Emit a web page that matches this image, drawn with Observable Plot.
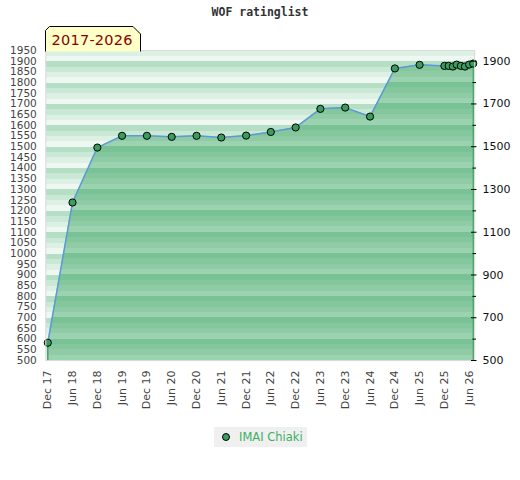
<!DOCTYPE html>
<html><head><meta charset="utf-8">
<script src="https://cdn.jsdelivr.net/npm/d3@7"></script>
<script src="https://cdn.jsdelivr.net/npm/@observablehq/plot@0.6"></script>
<style>
body{margin:0;background:#fff;width:520px;height:480px;overflow:hidden;position:relative;font-family:"DejaVu Sans",sans-serif;}
#title{position:absolute;left:0;top:5px;width:520px;text-align:center;font:bold 11.5px "DejaVu Sans Mono",monospace;color:#333;}
#chart{position:absolute;left:0;top:24px;}
#tag{position:absolute;left:45px;top:26px;}
#legend{position:absolute;left:214px;top:427px;width:93px;height:20px;background:#f0f0f0;font-size:11.5px;color:#3caf62;line-height:20px;white-space:nowrap;}
#legend .dot{position:absolute;left:8px;top:6px;width:6px;height:6px;border-radius:50%;background:#3a9d5d;border:1px solid #000;}
#legend .lbl{position:absolute;left:25px;top:0;}
</style></head><body>
<div id="title">WOF ratinglist</div>
<div id="chart"></div>
<svg id="tag" width="100" height="26"><path d="M0.5,25.5 V4.5 L4.5,0.5 H88 L95.5,8 V25.5" fill="#ffffc8" stroke="#000" stroke-width="1"/><text x="6.5" y="19" font-family="DejaVu Sans" font-size="14.5px" fill="#8b0000" textLength="81" lengthAdjust="spacing">2017-2026</text></svg>
<div id="legend"><span class="dot"></span><span class="lbl">IMAI Chiaki</span></div>
<script>
const months = ["2017-12","2018-06","2018-12","2019-06","2019-12","2020-06","2020-12","2021-06","2021-12","2022-06","2022-12","2023-06","2023-12","2024-06","2024-12","2025-06","2025-12","2026-01","2026-02","2026-03","2026-04","2026-05","2026-06","2026-07"];
const ratings = [583,1239,1496,1551,1551,1546,1551,1543,1552,1569,1590,1677,1683,1641,1866,1883,1878,1878,1875,1884,1878,1875,1884,1889];
const leftTicks = [500,550,600,650,700,750,800,850,900,950,1000,1050,1100,1150,1200,1250,1300,1350,1400,1450,1500,1550,1600,1650,1700,1750,1800,1850,1900,1950];
const rightMajor = [500,700,900,1100,1300,1500,1700,1900];
const rightMinor = [600,800,1000,1200,1400,1600,1800];
const xTicks = ["2017-12","2018-06","2018-12","2019-06","2019-12","2020-06","2020-12","2021-06","2021-12","2022-06","2022-12","2023-06","2023-12","2024-06","2024-12","2025-06","2025-12","2026-06"];
const bgColors = ["#b4dfc5","#c9e8d6","#ddf0e4","#eef7f1"];
const areaColors = ["#79c295","#84c79d","#8fcca6","#9bd2b0"];

const data = months.map((m, i) => ({date: new Date(m + "-01"), rating: ratings[i]}));
const tickDates = xTicks.map(m => new Date(m + "-01"));
const fmtInt = d3.format("d");

function stripeDefs(index, scales) {
  const y = scales.y;
  const defs = d3.create("svg:defs");
  const mk = (id, cols) => {
    const g = defs.append("linearGradient").attr("id", id)
      .attr("gradientUnits", "userSpaceOnUse").attr("spreadMethod", "repeat")
      .attr("x1", 0).attr("x2", 0).attr("y1", y(2000)).attr("y2", y(1900));
    cols.forEach((c, k) => {
      g.append("stop").attr("offset", k / 4).attr("stop-color", c);
      g.append("stop").attr("offset", (k + 1) / 4).attr("stop-color", c);
    });
  };
  mk("bgStripe", bgColors);
  mk("areaStripe", areaColors);
  return defs.node();
}

const plot = Plot.plot({
  width: 520, height: 400,
  marginTop: 26, marginBottom: 64, marginLeft: 47.3, marginRight: 47.3,
  x: {type: "utc", domain: [new Date("2017-12-01"), new Date("2026-07-01")]},
  y: {domain: [500, 1950]},
  style: {fontFamily: "DejaVu Sans", fontSize: "11px", background: "transparent", overflow: "visible"},
  marks: [
    stripeDefs,
    Plot.frame({fill: "url(#bgStripe)", insetLeft: -2, insetRight: -1.5}),
    Plot.areaY(data, {x: "date", y1: 500, y2: "rating", fill: "url(#areaStripe)"}),
    Plot.ruleX([data[0], data[data.length - 1]], {x: "date", y1: 500, y2: "rating", stroke: "#3a9a5a", strokeWidth: 1.3}),
    Plot.line(data, {x: "date", y: "rating", stroke: "#5b9bd5", strokeWidth: 1.5}),
    Plot.dot(data, {x: "date", y: "rating", r: 3.6, fill: "#3a9d5d", stroke: "#000", strokeWidth: 1}),
    Plot.frame({stroke: "#d9d9d9", insetLeft: -2, insetRight: -1.5}),
    Plot.axisY(leftTicks, {anchor: "left", tickSize: 0, tickPadding: 11, tickFormat: fmtInt, label: null, fill: "#444", fontSize: "10.5px"}),
    Plot.axisY(rightMajor, {anchor: "right", tickSize: 5.5, dx: -2.7, tickPadding: 6.5, tickFormat: fmtInt, label: null, fill: "#111", stroke: "#000"}),
    Plot.axisY(rightMinor, {anchor: "right", tickSize: 3.5, dx: -1.2, tickFormat: () => "", label: null, stroke: "#000"}),
    Plot.axisX(tickDates, {anchor: "bottom", tickSize: 0, tickRotate: -90, tickPadding: 10, tickFormat: d3.utcFormat("%b %y"), label: null, fill: "#444"})
  ]
});
document.getElementById("chart").appendChild(plot);
</script>
</body></html>
